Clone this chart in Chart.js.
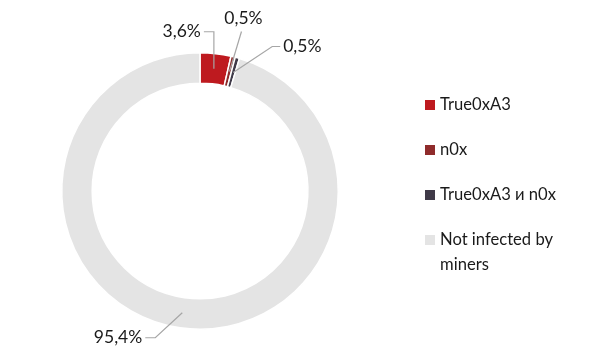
<!DOCTYPE html>
<html>
<head>
<meta charset="utf-8">
<script src="https://cdn.jsdelivr.net/npm/chart.js@4"></script>
<style>
  html, body { margin: 0; padding: 0; background: #fff; }
  #wrap { position: relative; width: 600px; height: 359px; }
  #c { position: absolute; left: 0; top: 0; }
  #legend { position: absolute; left: 425px; top: 92px; font-family: Lato, "Open Sans", sans-serif; font-size: 16.6px; color: #1a1a1a; }
  .item { position: relative; padding-left: 15px; line-height: 25px; margin-bottom: 20px; width: 160px; }
  .sw { position: absolute; left: 0; top: 8px; width: 10px; height: 10px; }
</style>
</head>
<body>
<div id="wrap">
  <canvas id="c" width="600" height="359"></canvas>
  <div id="legend"></div>
</div>
<script>
const categories = ['True0xA3', 'n0x', 'True0xA3 и n0x', 'Not infected by miners'];
const legendLines = [['True0xA3'], ['n0x'], ['True0xA3 и n0x'], ['Not infected by', 'miners']];
const values = [3.6, 0.5, 0.5, 95.4];
const valueLabels = ['3,6%', '0,5%', '0,5%', '95,4%'];
const colors = ['#BE1A1F', '#8F2B2B', '#3F3A48', '#E4E4E4'];

// label layout: offsets (px) of text relative to the arc anchor point, alignment, and leader style
const labelLayout = [
  { dx: -13, dy: -37, align: 'right', leader: 'elbowV' },
  { dx: 14, dy: -53, align: 'center', leader: 'straight' },
  { dx: 50, dy: -26, align: 'left', leader: 'elbowH' },
  { dx: -40, dy: 25, align: 'right', leader: 'elbowH' }
];

const leaderPlugin = {
  id: 'leaders',
  afterDatasetsDraw(chart) {
    const ctx = chart.ctx;
    const meta = chart.getDatasetMeta(0);
    ctx.save();
    ctx.font = '17.5px Lato, "Open Sans", sans-serif';
    ctx.textBaseline = 'middle';
    meta.data.forEach((arc, i) => {
      const p = arc.getProps(['x', 'y', 'startAngle', 'endAngle', 'innerRadius', 'outerRadius'], true);
      const mid = (p.startAngle + p.endAngle) / 2;
      const r = (p.innerRadius + p.outerRadius) / 2;
      const ax = p.x + Math.cos(mid) * r;
      const ay = p.y + Math.sin(mid) * r;
      const L = labelLayout[i];
      const tx = ax + L.dx, ty = ay + L.dy;
      const text = valueLabels[i];
      ctx.strokeStyle = '#A6A6A6';
      ctx.lineWidth = 1.2;
      ctx.beginPath();
      if (L.leader === 'elbowV') {
        ctx.moveTo(tx + 3, ty);
        ctx.lineTo(ax, ty);
        ctx.lineTo(ax, ay);
      } else if (L.leader === 'straight') {
        ctx.moveTo(tx - 2, ty + 13);
        ctx.lineTo(ax, ay);
      } else {
        if (L.align === 'left') {
          ctx.moveTo(tx - 3, ty);
          ctx.lineTo(tx - 11, ty);
        } else {
          ctx.moveTo(tx + 3, ty);
          ctx.lineTo(tx + 13, ty);
        }
        ctx.lineTo(ax, ay);
      }
      ctx.stroke();
      ctx.fillStyle = '#1a1a1a';
      ctx.textAlign = L.align;
      ctx.fillText(text, tx, ty);
    });
    ctx.restore();
  }
};

const chart = new Chart(document.getElementById('c'), {
  type: 'doughnut',
  data: {
    labels: categories,
    datasets: [{
      data: values,
      backgroundColor: colors,
      borderColor: '#ffffff',
      borderWidth: 1.5,
      hoverOffset: 0
    }]
  },
  options: {
    responsive: false,
    animation: false,
    cutout: '78%',
    layout: { padding: { left: 0, right: 200, top: 52, bottom: 29 } },
    plugins: { legend: { display: false }, tooltip: { enabled: false } }
  },
  plugins: [leaderPlugin]
});

const legendEl = document.getElementById('legend');
categories.forEach((c, i) => {
  const d = document.createElement('div');
  d.className = 'item';
  const sw = document.createElement('span');
  sw.className = 'sw';
  sw.style.background = colors[i];
  d.appendChild(sw);
  legendLines[i].forEach((ln, k) => {
    if (k) d.appendChild(document.createElement('br'));
    d.appendChild(document.createTextNode(ln));
  });
  legendEl.appendChild(d);
});
</script>
</body>
</html>
